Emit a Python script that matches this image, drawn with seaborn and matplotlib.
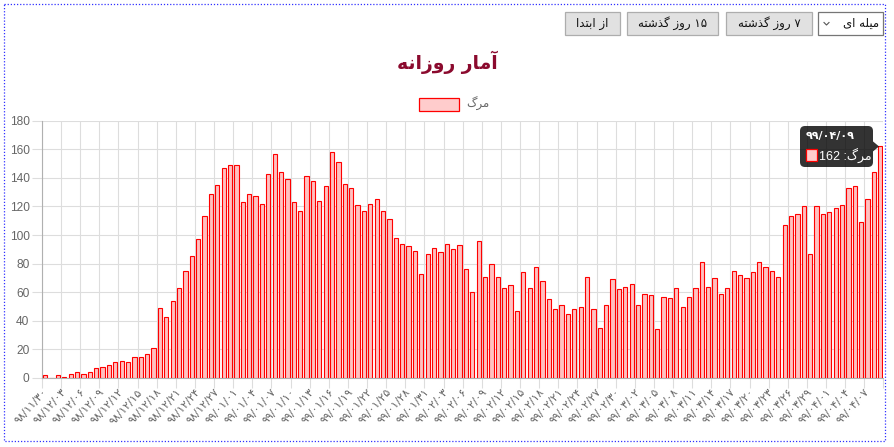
import numpy as np
import seaborn as sns
import matplotlib.pyplot as plt
from matplotlib.patches import Rectangle, FancyBboxPatch, Polygon
from matplotlib.ticker import FixedLocator

# daily deaths, 98/11/30 .. 99/04/09
deaths = [2, 0, 2, 1, 3, 4, 3, 4, 7, 8, 9,
          11, 12, 11, 15, 15, 17, 21, 49, 43, 54, 63, 75, 85, 97, 113, 129,
          135, 147, 149, 149, 123, 129, 127, 122, 143, 157, 144, 139, 123, 117, 141,
          138, 124, 134, 158, 151, 136, 133, 121, 117, 122, 125, 117, 111, 98, 94,
          92, 89, 73, 87, 91, 88, 94, 90, 93, 76, 60, 96, 71, 80, 71,
          63, 65, 47, 74, 63, 78, 68, 55, 48, 51, 45, 48, 50, 71, 48, 35, 51,
          69, 62, 64, 66, 51, 59, 58, 34, 57, 56, 63, 50, 57, 63,
          81, 64, 70, 59, 63, 75, 72, 70, 74, 81, 78, 75, 71, 107, 113, 115,
          120, 87, 120, 115, 116, 119, 121, 133, 134, 109, 125, 144, 162]
day_idx = list(range(len(deaths)))

# every third day is labelled
tick_labels = ['98/11/30', '98/12/03', '98/12/06', '98/12/09', '98/12/12', '98/12/15',
               '98/12/18', '98/12/21', '98/12/24', '98/12/27',
               '99/01/01', '99/01/04', '99/01/07', '99/01/10', '99/01/13', '99/01/16',
               '99/01/19', '99/01/22', '99/01/25', '99/01/28', '99/01/31',
               '99/02/03', '99/02/06', '99/02/09', '99/02/12', '99/02/15', '99/02/18',
               '99/02/21', '99/02/24', '99/02/27', '99/02/30',
               '99/03/02', '99/03/05', '99/03/08', '99/03/11', '99/03/14', '99/03/17',
               '99/03/20', '99/03/23', '99/03/26', '99/03/29',
               '99/04/01', '99/04/04', '99/04/07']
tick_pos = list(range(0, 3 * len(tick_labels), 3))
yticks = [0, 20, 40, 60, 80, 100, 120, 140, 160, 180]

title = 'آمار روزانه'
series_name = 'مرگ'
hover_date = '99/04/09'
buttons = ['از ابتدا', '۱۵ روز گذشته', '۷ روز گذشته']
dropdown = 'میله ای'

# --- tiny persian shaper (matplotlib has no arabic shaping) ---
FORMS = {
    'آ': ('\uFE81', '\uFE82', None, None),
    'ا': ('\uFE8D', '\uFE8E', None, None),
    'ب': ('\uFE8F', '\uFE90', '\uFE91', '\uFE92'),
    'ت': ('\uFE95', '\uFE96', '\uFE97', '\uFE98'),
    'د': ('\uFEA9', '\uFEAA', None, None),
    'ذ': ('\uFEAB', '\uFEAC', None, None),
    'ر': ('\uFEAD', '\uFEAE', None, None),
    'ز': ('\uFEAF', '\uFEB0', None, None),
    'ش': ('\uFEB5', '\uFEB6', '\uFEB7', '\uFEB8'),
    'ل': ('\uFEDD', '\uFEDE', '\uFEDF', '\uFEE0'),
    'م': ('\uFEE1', '\uFEE2', '\uFEE3', '\uFEE4'),
    'ن': ('\uFEE5', '\uFEE6', '\uFEE7', '\uFEE8'),
    'ه': ('\uFEE9', '\uFEEA', '\uFEEB', '\uFEEC'),
    'و': ('\uFEED', '\uFEEE', None, None),
    'گ': ('\uFB92', '\uFB93', '\uFB94', '\uFB95'),
    'ی': ('\uFBFC', '\uFBFD', '\uFBFE', '\uFBFF'),
}


def shape_word(w):
    out = []
    for i, ch in enumerate(w):
        if ch not in FORMS:
            out.append(ch)
            continue
        prev = w[i - 1] if i > 0 else None
        nxt = w[i + 1] if i + 1 < len(w) else None
        join_prev = prev in FORMS and FORMS[prev][2] is not None
        join_next = FORMS[ch][2] is not None and nxt in FORMS
        iso, fin, ini, med = FORMS[ch]
        if join_prev and join_next:
            out.append(med)
        elif join_prev:
            out.append(fin)
        elif join_next:
            out.append(ini)
        else:
            out.append(iso)
    return ''.join(reversed(out))


def fa(text):
    words = text.split(' ')
    return ' '.join(shape_word(w) if any(c in FORMS for c in w) else w
                    for w in reversed(words))


def fa_digits(s):
    return s.translate(str.maketrans('0123456789', '۰۱۲۳۴۵۶۷۸۹'))


plt.rcParams['font.family'] = ['DejaVu Sans']
W, H = 895, 447
fig = plt.figure(figsize=(W / 100, H / 100), dpi=100)
ax = fig.add_axes([42 / W, (H - 378) / H, (883.5 - 42) / W, (378 - 120.7) / H])

sns.barplot(x=day_idx, y=deaths, ax=ax, color='#ffc0c0', edgecolor='#ff0000',
            linewidth=0.8, width=0.66, saturation=1, zorder=3)

ax.set_xlim(-0.5, len(deaths) - 0.5)
ax.set_ylim(0, 180)
ax.set_xlabel('')
ax.set_ylabel('')

# labels at bar centres, grid lines at category edges
ax.xaxis.set_major_locator(FixedLocator(tick_pos))
ax.set_xticklabels([fa_digits(t) for t in tick_labels], rotation=48,
                   ha='right', va='center', rotation_mode='anchor',
                   fontsize=8, color='#666666')
ax.xaxis.set_minor_locator(FixedLocator([p - 0.5 for p in tick_pos] + [len(deaths) - 0.5]))
ax.tick_params(axis='x', which='major', length=0, pad=9)
ax.tick_params(axis='x', which='minor', length=7, color='#dddddd', width=0.8)
ax.grid(axis='x', which='minor', color='#dddddd', linewidth=0.8, zorder=0)

ax.set_yticks(yticks)
ax.set_yticklabels([str(v) for v in yticks], fontsize=8.6, color='#666666',
                   family='Liberation Sans')
ax.tick_params(axis='y', length=7, color='#dddddd', width=0.8, pad=2)
ax.grid(axis='y', color='#dddddd', linewidth=0.8, zorder=0)
ax.set_axisbelow(True)

for side in ['top', 'right']:
    ax.spines[side].set_visible(False)
ax.spines['left'].set_color('#b0b0b0')
ax.spines['bottom'].set_color('#b0b0b0')
ax.spines['left'].set_linewidth(0.8)
ax.spines['bottom'].set_linewidth(0.8)

# overlay in pixel coords for the page furniture
ov = fig.add_axes([0, 0, 1, 1], zorder=10)
ov.set_xlim(0, W)
ov.set_ylim(H, 0)
ov.axis('off')
ov.patch.set_visible(False)

ov.add_patch(Rectangle((4, 4), 881, 437, fill=False, edgecolor='#3030ff',
                       linestyle=(0, (1, 1.5)), linewidth=0.9))

ov.text(447, 62, fa(title), ha='center', va='center', fontsize=13.5,
        fontweight='bold', color='#8b0a2e')

# legend
ov.add_patch(Rectangle((419, 98), 40, 13, facecolor='#ffcccc', edgecolor='#ff0000',
                       linewidth=0.9))
ov.text(466, 104, fa(series_name), ha='left', va='center', fontsize=8.5, color='#666666')

# buttons
btn_boxes = [(565, 620), (627, 718), (726, 812)]
for (x0, x1), lab in zip(btn_boxes, buttons):
    ov.add_patch(Rectangle((x0, 12), x1 - x0, 23, facecolor='#e1e1e1',
                           edgecolor='#adadad', linewidth=0.9))
    ov.text((x0 + x1) / 2, 23.5, fa(fa_digits(lab)), ha='center', va='center',
            fontsize=8.5, color='#111111')
ov.add_patch(Rectangle((818, 12), 65, 23, facecolor='white', edgecolor='#767676',
                       linewidth=0.9))
ov.text(879, 23.5, fa(dropdown), ha='right', va='center', fontsize=8.5, color='#111111')
ov.plot([824, 826.5, 829], [22.5, 25, 22.5], color='#555555', linewidth=0.8)

# tooltip on the last bar
last_y = 378 - deaths[-1] * (378 - 120.7) / 180
ov.add_patch(FancyBboxPatch((800, 126), 73, 41, boxstyle='round,pad=0,rounding_size=5',
                            facecolor='#000000', alpha=0.8, edgecolor='none'))
ov.add_patch(Polygon([[873, last_y - 5], [879, last_y], [873, last_y + 5]],
                     closed=True, facecolor='#000000', alpha=0.8, edgecolor='none'))
ov.text(806, 136, fa_digits(hover_date), ha='left', va='center', fontsize=8,
        fontweight='bold', color='white')
ov.add_patch(Rectangle((806, 149), 11, 12, facecolor='#ffcccc', edgecolor='#ff0000',
                       linewidth=0.9))
ov.text(819, 155.5, fa(series_name + ': ' + str(deaths[-1])), ha='left', va='center',
        fontsize=9, color='white', family=['Liberation Sans', 'DejaVu Sans'])

fig.savefig('out.png', dpi=100)
